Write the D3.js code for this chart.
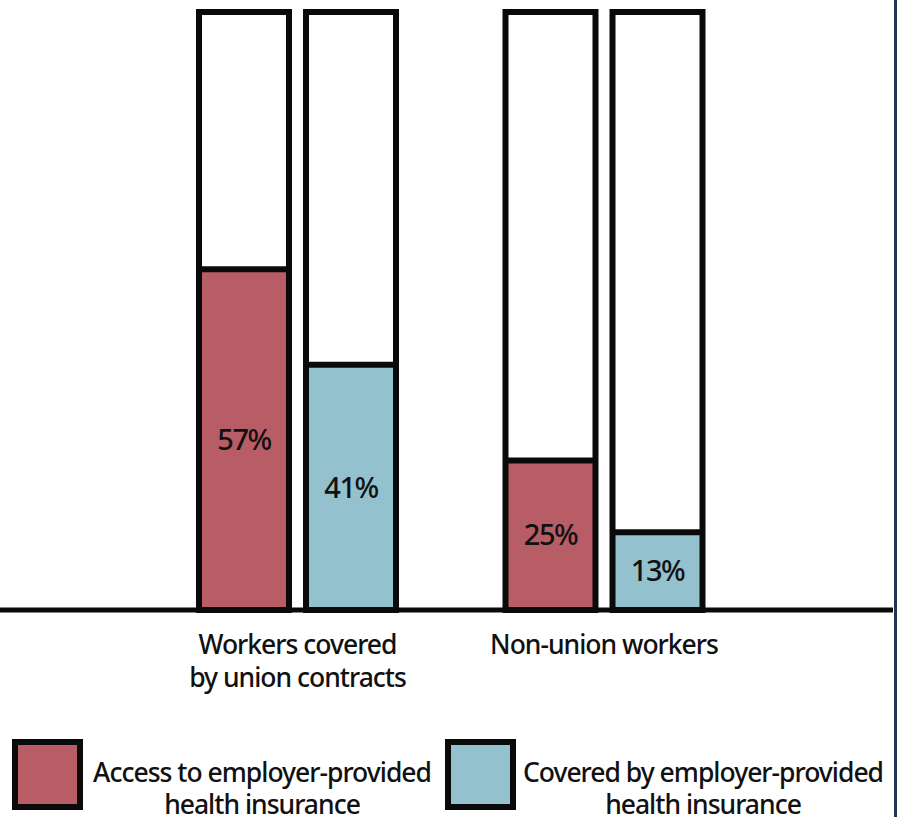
<!DOCTYPE html>
<html>
<head>
<meta charset="utf-8">
<script src="https://cdn.jsdelivr.net/npm/d3@7"></script>
<style>
  body { margin: 0; background: #fff; }
  text { font-family: "Noto Sans", sans-serif; font-weight: 500; fill: #111; }
</style>
</head>
<body>
<div class="chart"></div>
<script>
var categories = ["Workers covered|by union contracts", "Non-union workers"];
var seriesNames = ["Access to employer-provided|health insurance", "Covered by employer-provided|health insurance"];
var accessValues = [57, 25];
var coveredValues = [41, 13];
var seriesColors = ["#b85c66", "#93c1cd"];

var svgWidth = 899, svgHeight = 817;

var svg = d3.select(".chart")
  .append("svg")
  .attr("width", svgWidth)
  .attr("height", svgHeight);

// build rows from the arrays
var rows = [];
categories.forEach(function(c, i) {
  rows.push({cat: c, series: 0, value: accessValues[i]});
  rows.push({cat: c, series: 1, value: coveredValues[i]});
});

var x0 = d3.scalePoint()
  .domain(categories)
  .range([297.5, 604]);

var x1 = d3.scaleBand()
  .domain([0, 1])
  .range([-101.5, 101.5])
  .paddingInner(0.103);

var y = d3.scaleLinear()
  .domain([0, 100])
  .range([610, 12]);

var sw = 6;
var barGroup = svg.append("g");

var bars = barGroup.selectAll("g.bar")
  .data(rows)
  .enter()
  .append("g")
  .attr("class", "bar")
  .attr("transform", d => `translate(${x0(d.cat) + x1(d.series)}, 0)`);

// empty 100% frame
bars.append("rect")
  .attr("x", sw / 2)
  .attr("y", y(100))
  .attr("width", x1.bandwidth() - sw)
  .attr("height", y(0) - y(100))
  .attr("fill", "#fff");

// filled share
bars.append("rect")
  .attr("x", sw / 2)
  .attr("y", d => y(d.value))
  .attr("width", x1.bandwidth() - sw)
  .attr("height", d => y(0) - y(d.value))
  .attr("fill", d => seriesColors[d.series]);

bars.append("line")
  .attr("x1", sw / 2)
  .attr("x2", x1.bandwidth() - sw / 2)
  .attr("y1", d => y(d.value))
  .attr("y2", d => y(d.value))
  .attr("stroke", "#0a0a0a")
  .attr("stroke-width", sw);

bars.append("rect")
  .attr("x", sw / 2)
  .attr("y", y(100))
  .attr("width", x1.bandwidth() - sw)
  .attr("height", y(0) - y(100))
  .attr("fill", "none")
  .attr("stroke", "#0a0a0a")
  .attr("stroke-width", sw);

bars.append("text")
  .attr("x", x1.bandwidth() / 2)
  .attr("y", d => (y(d.value) + y(0)) / 2)
  .attr("dy", "0.35em")
  .attr("text-anchor", "middle")
  .style("font-size", "29px")
  .style("letter-spacing", "-1.5px")
  .text(d => d.value + "%");

// baseline
svg.append("line")
  .attr("x1", 0)
  .attr("x2", 893)
  .attr("y1", y(0))
  .attr("y2", y(0))
  .attr("stroke", "#0a0a0a")
  .attr("stroke-width", 5);

// category labels
var catLabels = svg.selectAll("text.cat")
  .data(categories)
  .enter()
  .append("text")
  .attr("class", "cat")
  .attr("text-anchor", "middle")
  .attr("x", d => x0(d))
  .attr("y", 654)
  .style("font-size", "26.5px")
  .style("letter-spacing", "-1px");

catLabels.selectAll("tspan")
  .data(d => d.split("|"))
  .enter()
  .append("tspan")
  .attr("x", function() { return d3.select(this.parentNode).attr("x"); })
  .attr("dy", (d, i) => i === 0 ? 0 : 33)
  .text(d => d);

// legend
var legendX = [12, 445];
var legend = svg.selectAll("g.legend")
  .data(seriesNames)
  .enter()
  .append("g")
  .attr("class", "legend")
  .attr("transform", (d, i) => `translate(${legendX[i]}, 739)`);

legend.append("rect")
  .attr("x", sw / 2)
  .attr("y", sw / 2)
  .attr("width", 71 - sw)
  .attr("height", 71 - sw)
  .attr("fill", (d, i) => seriesColors[i])
  .attr("stroke", "#0a0a0a")
  .attr("stroke-width", sw);

var legendText = legend.append("text")
  .attr("text-anchor", "middle")
  .attr("x", (d, i) => i === 0 ? 250 : 258)
  .attr("y", 43)
  .style("font-size", "26.5px")
  .style("letter-spacing", "-1px");

legendText.selectAll("tspan")
  .data(d => d.split("|"))
  .enter()
  .append("tspan")
  .attr("x", function() { return d3.select(this.parentNode).attr("x"); })
  .attr("dy", (d, i) => i === 0 ? 0 : 32)
  .text(d => d);

// right frame edge
svg.append("line")
  .attr("x1", 895.5)
  .attr("x2", 895.5)
  .attr("y1", 0)
  .attr("y2", svgHeight)
  .attr("stroke", "#1f3556")
  .attr("stroke-width", 3);
</script>
</body>
</html>
